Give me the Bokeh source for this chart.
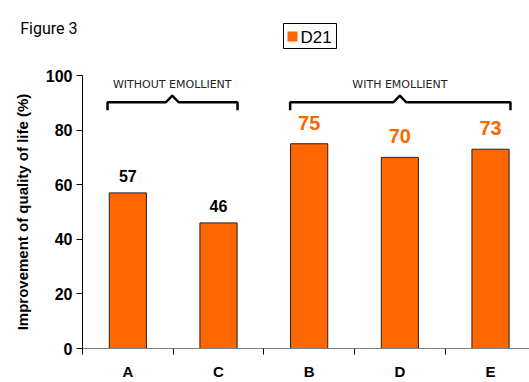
from bokeh.plotting import figure
from bokeh.layouts import column
from bokeh.models import (ColumnDataSource, Range1d, FixedTicker, LinearAxis, Label,
                          LabelSet)
from bokeh.core.properties import value
from bokeh.embed import file_html
from bokeh.resources import INLINE

categories = ["A", "C", "B", "D", "E"]
values = [57, 46, 75, 70, 73]
label_colors = ["#000000", "#000000", "#FF6600", "#FF6600", "#FF6600"]
label_sizes = ["16px", "16px", "20px", "20px", "20px"]
series_name = "D21"
y_ticks = [0, 20, 40, 60, 80, 100]
group_names = ["WITHOUT EMOLLIENT", "WITH EMOLLIENT"]
figure_title = "Figure 3"

FONT = "Liberation Sans"
ORANGE = "#FF6600"
LEFT = 82

# ---------- header strip (title + legend) ----------
HEAD_H = 60
head = figure(width=529, height=HEAD_H, output_backend="svg", toolbar_location=None,
              x_range=Range1d(LEFT, 529), y_range=Range1d(HEAD_H, 0),
              min_border=0, min_border_left=LEFT, min_border_right=0,
              min_border_top=0, min_border_bottom=0,
              x_axis_type=None, y_axis_type=None)
head.outline_line_color = None
head.xgrid.visible = False
head.ygrid.visible = False
# title shown as a single tick label of a left axis of the header strip
ta = LinearAxis(ticker=FixedTicker(ticks=[28], minor_ticks=[]),
                major_label_overrides={28: figure_title})
ta.axis_line_color = None
ta.major_tick_line_color = None
ta.major_tick_in = 0
ta.major_tick_out = 0
ta.major_label_standoff = 5
ta.major_label_text_font = "Roboto"
ta.major_label_text_font_size = "16px"
ta.major_label_text_color = "black"
head.add_layout(ta, "left")
# legend box
head.quad(left=[283], right=[336], top=[23], bottom=[48], fill_color="white",
          line_color="black", line_width=1)
head.quad(left=[287], right=[297], top=[31], bottom=[41], fill_color=ORANGE,
          line_color=None)
head.text(x=[300], y=[36.5], text=[series_name], text_font=value(FONT),
          text_font_size="17px", text_baseline="middle", text_color="black")

# ---------- main chart ----------
xc = [i + 0.5 for i in range(len(categories))]
offsets = [11 if s == "16px" else 14 for s in label_sizes]
src = ColumnDataSource(dict(x=xc, top=values, cat=categories,
                            lab=[str(v) for v in values],
                            col=label_colors, size=label_sizes, off=offsets))

p = figure(width=529, height=382 - HEAD_H, output_backend="svg", toolbar_location=None,
           x_range=Range1d(0, 4.93), y_range=Range1d(0, 100),
           min_border_left=LEFT, min_border_right=0, min_border_top=15,
           min_border_bottom=32, x_axis_type=None, y_axis_type=None)
p.outline_line_color = None
p.xgrid.visible = False
p.ygrid.visible = False
p.background_fill_color = "white"
p.border_fill_color = "white"

p.vbar(x="x", top="top", width=0.41, bottom=0, source=src,
       fill_color=ORANGE, line_color="#222222", line_width=1)

# y axis
ya = LinearAxis(ticker=FixedTicker(ticks=y_ticks, minor_ticks=[]),
                axis_label="Improvement of quality of life (%)")
ya.axis_line_color = "black"
ya.major_tick_out = 6
ya.major_tick_in = 0
ya.major_tick_line_color = "black"
ya.major_label_text_font = FONT
ya.major_label_text_font_style = "bold"
ya.major_label_text_font_size = "16px"
ya.major_label_text_color = "black"
ya.major_label_standoff = 4
ya.axis_label_text_font = FONT
ya.axis_label_text_font_style = "bold"
ya.axis_label_text_font_size = "15px"
ya.axis_label_text_color = "black"
ya.axis_label_standoff = 12
p.add_layout(ya, "left")

# x axis: labels at centers, ticks at boundaries
xa = LinearAxis(ticker=FixedTicker(ticks=xc, minor_ticks=[0, 1, 2, 3, 4, 5]),
                major_label_overrides={c: n for c, n in zip(xc, categories)})
xa.axis_line_color = "#808080"
xa.major_tick_in = 0
xa.major_tick_out = 0
xa.minor_tick_in = 0
xa.minor_tick_out = 6
xa.minor_tick_line_color = "black"
xa.major_label_text_font = FONT
xa.major_label_text_font_style = "bold"
xa.major_label_text_font_size = "15px"
xa.major_label_text_color = "black"
xa.major_label_standoff = 8
p.add_layout(xa, "below")

# value labels
labels = LabelSet(x="x", y="top", text="lab", source=src, text_align="center",
                  text_baseline="bottom", y_offset="off", text_color="col",
                  text_font=value(FONT), text_font_style="bold",
                  text_font_size="size")
p.add_layout(labels)

# brackets
def bracket(x0, x1, xm, name):
    p.line([x0, x0, xm - 0.07, xm, xm + 0.07, x1, x1],
           [87.3, 90.2, 90.2, 92.6, 90.2, 90.2, 87.3],
           line_color="black", line_width=2.5)
    p.add_layout(Label(x=xm, y=96.6, text=name, text_align="center",
                       text_baseline="middle", text_font="DejaVu Sans",
                       text_font_size="11px", text_color="#222222"))

bracket(0.276, 1.71, 0.99, group_names[0])
bracket(2.29, 4.72, 3.5, group_names[1])

layout = column(head, p, spacing=0)
open("out.html", "w").write(file_html(layout, INLINE))
